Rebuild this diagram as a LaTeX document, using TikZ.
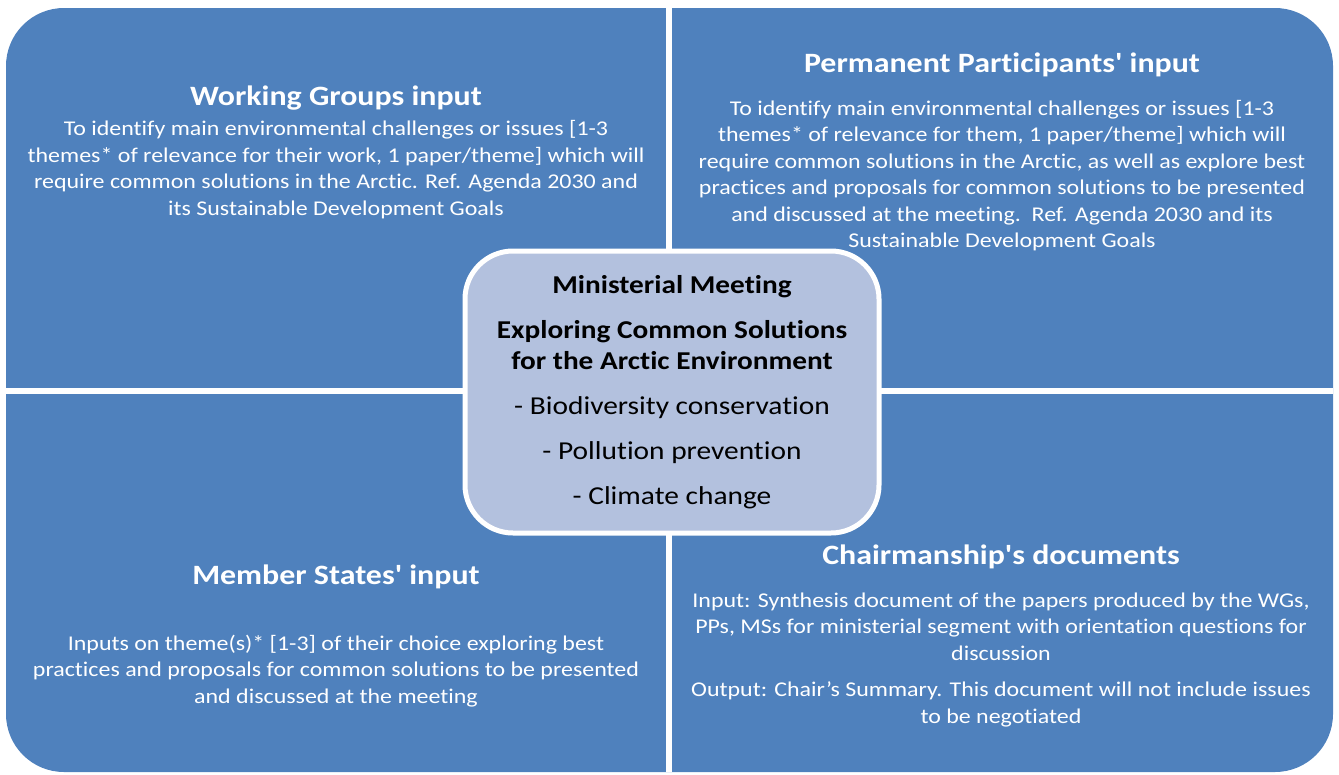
\documentclass[tikz,border=0pt]{standalone}
\usepackage{fontspec}
\setmainfont{Carlito}[Ligatures={TeXOff,CommonOff}, FakeStretch=1.14]
\definecolor{quadblue}{RGB}{79,129,189}
\definecolor{hubblue}{RGB}{179,193,222}
\newcommand\hubhead[1]{{\fontsize{25.7}{31}\selectfont\bfseries #1}}
\tikzset{every picture/.style={line width=1pt}}
\tikzset{
  heading/.style={text=white, align=center, inner sep=0pt, font=\fontsize{28}{34}\selectfont\bfseries},
  body/.style={text=white, align=center, inner sep=0pt, font=\fontsize{21}{26.5}\selectfont},
  hub/.style={draw=white, line width=5pt, fill=hubblue, rounded corners=48pt, minimum width=414pt, minimum height=282pt, align=center, inner sep=0pt, font=\fontsize{25.8}{31}\selectfont}
}

\begin{document}
\begin{tikzpicture}[x=1pt,y=1pt,yscale=-1,xscale=1]
\useasboundingbox (0,0) rectangle (1339,774);

%Shape: Rounded Rectangle (four quadrants)
\fill [quadblue, rounded corners=58pt] (6,8) rectangle (1333,772);
%Straight Lines: white gaps
\draw [white, line width=6pt] (669,8) -- (669,772);
\draw [white, line width=6pt] (6,391) -- (1333,391);

% Text Node
\node [heading] (wgtitle) at (336,98) {Working Groups input};
\node [body] (wgtext) at (336,169.5) {To identify main environmental challenges or issues [1-3\\ themes* of relevance for their work, 1 paper/theme] which will\\ require common solutions in the Arctic. Ref. Agenda 2030 and\\ its Sustainable Development Goals};
% Text Node
\node [heading] (pptitle) at (1002,65) {Permanent Participants' input};
\node [body] (pptext) at (1002,175.5) {To identify main environmental challenges or issues [1-3\\ themes* of relevance for them, 1 paper/theme] which will\\ require common solutions in the Arctic, as well as explore best\\ practices and proposals for common solutions to be presented\\ and discussed at the meeting.\ \ Ref. Agenda 2030 and its\\ Sustainable Development Goals};
% Text Node
\node [heading] (mstitle) at (336,577) {Member States' input};
\node [body] (mstext) at (336,671) {Inputs on theme(s)* [1-3] of their choice exploring best\\ practices and proposals for common solutions to be presented\\ and discussed at the meeting};
% Text Node
\node [heading] (chtitle) at (1001,557) {Chairmanship's documents};
\node [body] (chtext) at (1001,660) {Input: Synthesis document of the papers produced by the WGs,\\ PPs, MSs for ministerial segment with orientation questions for\\ discussion\\[10pt] Output: Chair’s Summary. This document will not include issues\\ to be negotiated};

%Shape: Rounded Rectangle (meeting)
\node [hub] (meeting) at (672,392) {\hubhead{Ministerial Meeting}\\[14pt] \hubhead{Exploring Common Solutions}\\ \hubhead{for the Arctic Environment}\\[14pt] - Biodiversity conservation\\[14pt] - Pollution prevention\\[14pt] - Climate change};

\end{tikzpicture}
\end{document}
